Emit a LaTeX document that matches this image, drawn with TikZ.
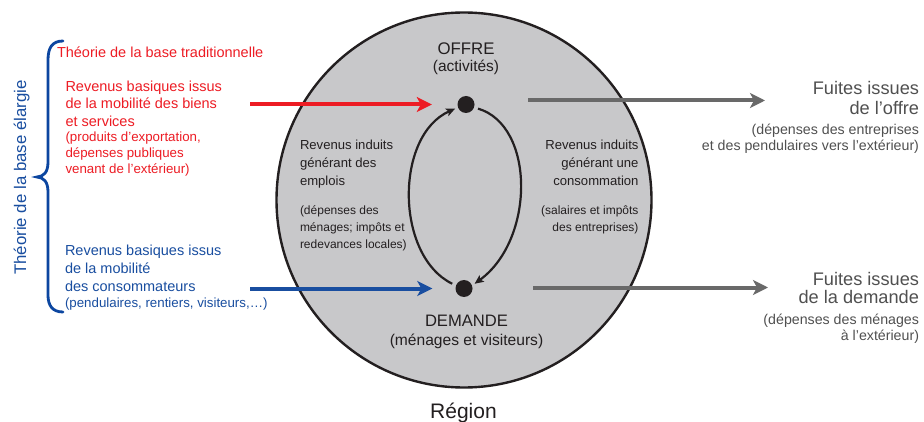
\documentclass[tikz,border=0pt]{standalone}
\usepackage{fontspec}
\setmainfont{Liberation Sans}
\usetikzlibrary{arrows.meta}
\definecolor{fred}{RGB}{237,28,36}
\definecolor{fblue}{RGB}{25,78,160}
\definecolor{bracec}{RGB}{12,70,160}
\definecolor{fgray}{RGB}{105,105,105}
\definecolor{tgray}{RGB}{80,80,80}
\definecolor{cfill}{RGB}{200,200,202}
\definecolor{dark}{RGB}{35,31,32}
\newcommand\fsz[2]{\fontsize{#1}{#2}\selectfont}
\tikzset{
  txt/.style={inner sep=0pt, outer sep=0pt},
  lw/.style={txt, anchor=base west},
  le/.style={txt, anchor=base east},
  lc/.style={txt, anchor=base},
  bigarrow/.style={line width=4pt, -{Stealth[length=15pt,width=15pt,inset=4pt]}},
  inarr/.style={draw=dark, line width=2.2pt, -{Stealth[length=9pt,width=8pt,inset=2pt]}},
  dotnode/.style={circle, fill=dark, minimum size=17pt, inner sep=0pt},
  redbig/.style={lw, text=fred, font=\fsz{14.5}{17}},
  redsmall/.style={lw, text=fred, font=\fsz{13.3}{15}},
  bluebig/.style={lw, text=fblue, font=\fsz{14.5}{17}},
  bluesmall/.style={lw, text=fblue, font=\fsz{13.3}{15}},
  inl/.style={lw, text=dark, font=\fsz{13.1}{15}},
  inr/.style={le, text=dark, font=\fsz{13.1}{15}},
  inls/.style={lw, text=dark, font=\fsz{12}{14}},
  inrs/.style={le, text=dark, font=\fsz{12}{14}},
  fbig/.style={le, text=tgray, font=\fsz{18.2}{20}},
  fsmall/.style={le, text=tgray, font=\fsz{14.2}{16}}
}
\begin{document}
\begin{tikzpicture}[x=1pt,y=1pt]
\useasboundingbox (0,0) rectangle (924,-422);
\fill[white] (0,0) rectangle (924,-422);

% region circle
\node[circle, draw=dark, fill=cfill, line width=2.4pt, minimum size=375pt, inner sep=0pt] (region) at (464,-200) {};

% dots
\node[dotnode] (tdot) at (466,-104.5) {};
\node[dotnode] (bdot) at (464,-288.5) {};

% inner arcs
\draw[inarr, shorten <=4pt, shorten >=3pt] (bdot.160) .. controls +(-61,30) and +(-63,-28) .. (tdot.200);
\draw[inarr, shorten <=4pt, shorten >=3pt] (tdot.-20) .. controls +(61,-18) and +(63,46) .. (bdot.20);

% input arrows
\coordinate (rs) at (250,-104.5);
\coordinate (bs) at (250,-288.5);
\draw[bigarrow, draw=fred, shorten >=25.5pt] (rs) -- (tdot);
\draw[bigarrow, draw=fblue, shorten >=23pt] (bs) -- (bdot);

% leak arrows
\coordinate (gt1) at (528,-100.5);
\coordinate (gt2) at (765,-100.5);
\coordinate (gb1) at (533,-287.5);
\coordinate (gb2) at (768,-287.5);
\draw[bigarrow, draw=fgray] (gt1) -- (gt2);
\draw[bigarrow, draw=fgray] (gb1) -- (gb2);

% brace
\draw[bracec, line width=2.8pt, line cap=round] (63,-41) .. controls (52,-41) and (48,-48) .. (48,-60) -- (48,-162) .. controls (48,-172) and (44,-176.5) .. (37,-177) .. controls (44,-177.5) and (48,-182) .. (48,-192) -- (48,-295) .. controls (48,-305) and (52,-312) .. (63,-312);
\node[txt, rotate=90, anchor=base, text=fblue, font=\fsz{16.8}{20}] (elarg) at (26,-177.5) {Théorie de la base élargie};

% red block
\node[redbig] (t0) at (57,-58) {Théorie de la base traditionnelle};
\node[redbig] (r1) at (65.5,-91.5) {Revenus basiques issus};
\node[redbig] (r2) at (65.5,-108.5) {de la mobilité des biens};
\node[redbig] (r3) at (65.5,-126.5) {et services};
\node[redsmall] (r4) at (65.5,-141.7) {(produits d’exportation,};
\node[redsmall] (r5) at (65.5,-158) {dépenses publiques};
\node[redsmall] (r6) at (65.5,-174) {venant de l’extérieur)};

% blue block
\node[bluebig] (b1) at (65,-256) {Revenus basiques issus};
\node[bluebig] (b2) at (65,-273.3) {de la mobilité};
\node[bluebig] (b3) at (65,-291) {des consommateurs};
\node[bluesmall] (b4) at (65,-307) {(pendulaires, rentiers, visiteurs,…)};

% circle texts
\node[lc, text=dark, font=\fsz{16.8}{20}] (offre) at (466,-54.3) {OFFRE};
\node[lc, text=dark, font=\fsz{15.5}{18}] (activ) at (466,-71.7) {(activités)};
\node[lc, text=dark, font=\fsz{16.6}{20}] (dem) at (466.5,-326.7) {DEMANDE};
\node[lc, text=dark, font=\fsz{15.6}{18}] (menv) at (466.5,-345) {(ménages et visiteurs)};
\node[lc, text=dark, font=\fsz{21}{24}] (reg) at (463.5,-418.3) {Région};

\node[inl] (i1) at (300,-150) {Revenus induits};
\node[inl] (i2) at (300,-168) {générant des};
\node[inl] (i3) at (300,-185.7) {emplois};
\node[inls] (i4) at (300,-214.3) {(dépenses des};
\node[inls] (i5) at (300,-232) {ménages; impôts et};
\node[inls] (i6) at (300,-249) {redevances locales)};

\node[inr] (j1) at (638.5,-150) {Revenus induits};
\node[inr] (j2) at (638.5,-168) {générant une};
\node[inr] (j3) at (638.5,-185.7) {consommation};
\node[inrs] (j4) at (638.5,-214.3) {(salaires et impôts};
\node[inrs] (j5) at (638.5,-232) {des entreprises)};

% leaks texts
\node[fbig] (f1) at (919,-95) {Fuites issues};
\node[fbig] (f2) at (919,-115) {de l’offre};
\node[fsmall] (f3) at (919,-135) {(dépenses des entreprises};
\node[fsmall] (f4) at (919,-150.7) {et des pendulaires vers l’extérieur)};

\node[fbig] (g1) at (919,-285) {Fuites issues};
\node[fbig] (g2) at (919,-303.3) {de la demande};
\node[fsmall] (g3) at (919,-324) {(dépenses des ménages};
\node[fsmall] (g4) at (919,-340.7) {à l'extérieur)};
\end{tikzpicture}
\end{document}
